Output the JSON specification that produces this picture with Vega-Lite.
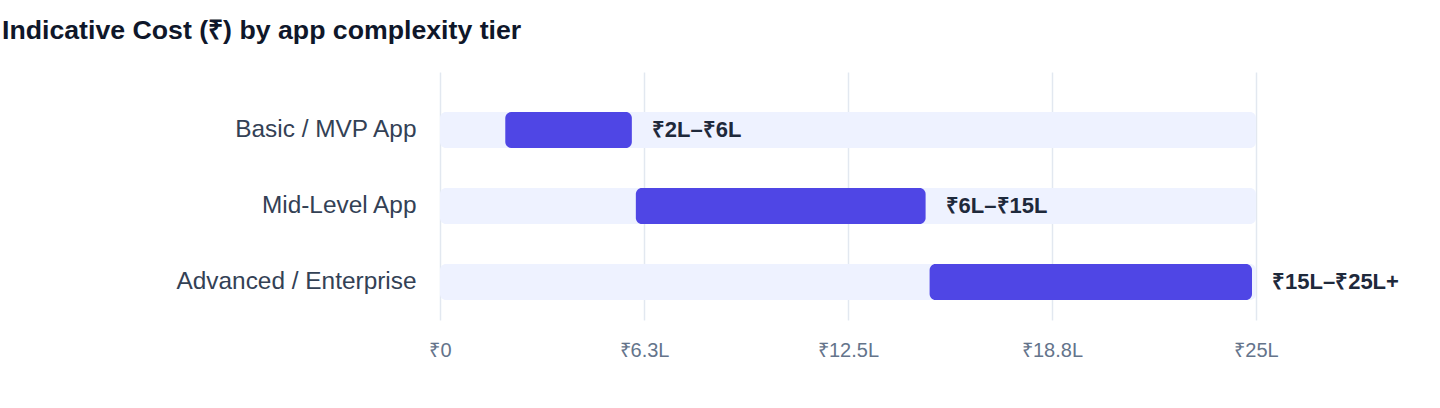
{
  "$schema": "https://vega.github.io/schema/vega-lite/v6.json",
  "autosize": {"type": "none"},
  "width": 816,
  "height": 248,
  "padding": {"left": 440, "top": 72, "right": 184, "bottom": 88},
  "background": "#ffffff",
  "title": {
    "text": "Indicative Cost (₹) by app complexity tier",
    "anchor": "start",
    "frame": "group",
    "dx": -438,
    "offset": 27,
    "fontSize": 26.7,
    "fontWeight": "bold",
    "font": "Liberation Sans",
    "color": "#0F172A"
  },
  "config": {
    "view": {"stroke": null},
    "font": "Liberation Sans"
  },
  "data": {
    "values": [
      {"tier": "Basic / MVP App", "start": 2, "end": 6, "min": 0, "max": 25, "label": "₹2L–₹6L"},
      {"tier": "Mid-Level App", "start": 6, "end": 15, "min": 0, "max": 25, "label": "₹6L–₹15L"},
      {"tier": "Advanced / Enterprise", "start": 15, "end": 25, "min": 0, "max": 25, "label": "₹15L–₹25L+"}
    ]
  },
  "encoding": {
    "y": {
      "field": "tier",
      "type": "nominal",
      "sort": null,
      "scale": {"paddingInner": 0.5263, "paddingOuter": 0.3947, "align": 0.667},
      "axis": {
        "title": null,
        "ticks": false,
        "domain": false,
        "grid": false,
        "labelPadding": 24,
        "labelFontSize": 24.4,
        "labelLimit": 400,
        "labelColor": "#334155",
        "labelFont": "Liberation Sans"
      }
    }
  },
  "layer": [
    {
      "mark": {"type": "bar", "color": "#EEF2FF", "cornerRadius": 6},
      "encoding": {
        "x": {
          "field": "min",
          "type": "quantitative",
          "scale": {"domain": [0, 25], "nice": false},
          "axis": {
            "title": null,
            "values": [0, 6.25, 12.5, 18.75, 25],
            "labelExpr": "'₹' + (datum.value == 0 ? '0' : format(datum.value, '.1~f') + 'L')",
            "ticks": false,
            "domain": false,
            "grid": true,
            "gridColor": "#E2E8F0",
            "gridWidth": 1.5,
            "labelFlush": false,
            "labelPadding": 20,
            "labelFontSize": 20,
            "labelColor": "#64748B",
            "labelFont": "Liberation Sans"
          }
        },
        "x2": {"field": "max"}
      }
    },
    {
      "mark": {"type": "bar", "color": "#4F46E5", "cornerRadius": 6, "x2Offset": -4},
      "encoding": {
        "x": {"field": "start", "type": "quantitative"},
        "x2": {"field": "end"}
      }
    },
    {
      "mark": {"type": "text", "align": "left", "baseline": "middle", "dx": 16, "fontSize": 22, "fontWeight": "bold", "color": "#1E293B", "font": "Liberation Sans"},
      "encoding": {
        "x": {"field": "end", "type": "quantitative"},
        "text": {"field": "label"}
      }
    }
  ]
}
